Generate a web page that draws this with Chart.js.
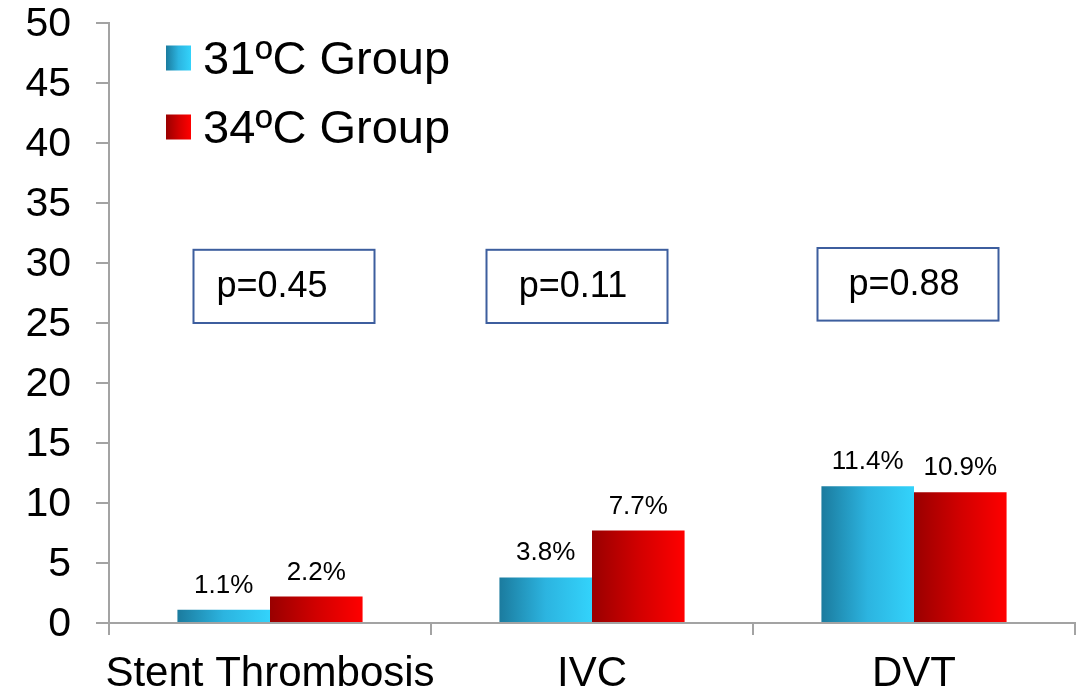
<!DOCTYPE html>
<html>
<head>
<meta charset="utf-8">
<script src="https://cdn.jsdelivr.net/npm/chart.js@4/dist/chart.umd.min.js"></script>
<style>
  html, body { margin: 0; padding: 0; background: #ffffff; }
  #wrap { width: 1076px; height: 694px; }
</style>
</head>
<body>
<div id="wrap"><canvas id="chart" width="1076" height="694"></canvas></div>
<script>
// Complication rates (%) by cooling group
const categories = ['Stent Thrombosis', 'IVC', 'DVT'];
const group31 = [1.1, 3.8, 11.4];
const group34 = [2.2, 7.7, 10.9];
const seriesNames = ['31ºC Group', '34ºC Group'];
const pValues = ['p=0.45', 'p=0.11', 'p=0.88'];
const yMin = 0, yMax = 50, yStep = 5;

const FONT = '"Liberation Sans", Arial, Helvetica, sans-serif';
const AXIS_GREY = '#a3a3a3';

// Horizontal gradient stops for each series (dark left edge -> bright right edge)
const gradientStops = [
  ['#1b7b9e', '#2cb4e0', '#33d3fb'],
  ['#990000', '#d10000', '#ff0000']
];

function makeGradient(ctx, x0, x1, stops) {
  const g = ctx.createLinearGradient(x0, 0, x1, 0);
  g.addColorStop(0, stops[0]);
  g.addColorStop(0.5, stops[1]);
  g.addColorStop(1, stops[2]);
  return g;
}

// Paints every bar with its own left-to-right gradient
const barGradient = {
  id: 'barGradient',
  beforeDatasetDraw(chart, args) {
    const ctx = chart.ctx;
    const stops = gradientStops[args.index];
    args.meta.data.forEach(el => {
      const half = el.width / 2;
      const fill = makeGradient(ctx, el.x - half, el.x + half, stops);
      el.options = Object.assign({}, el.options, { backgroundColor: fill });
    });
  }
};

// Percent labels above the bars, p-value boxes and the legend
const overlays = {
  id: 'overlays',
  afterDatasetsDraw(chart, args, opts) {
    const ctx = chart.ctx;
    const x = chart.scales.x, y = chart.scales.y;
    ctx.save();

    // value labels
    ctx.fillStyle = '#000000';
    ctx.font = '26px ' + FONT;
    ctx.textAlign = 'center';
    ctx.textBaseline = 'alphabetic';
    chart.data.datasets.forEach((ds, di) => {
      chart.getDatasetMeta(di).data.forEach((el, i) => {
        ctx.fillText(ds.data[i].toFixed(1) + '%', el.x, el.y - 17);
      });
    });

    // p-value boxes
    ctx.lineWidth = 2;
    ctx.strokeStyle = '#3d5e9e';
    ctx.font = '36px ' + FONT;
    ctx.textBaseline = 'middle';
    pValues.forEach((txt, i) => {
      const cx = x.getPixelForValue(i) + opts.boxShift[i];
      const top = y.getPixelForValue(opts.boxTop[i]);
      const bottom = y.getPixelForValue(opts.boxBottom[i]);
      const w = opts.boxWidth;
      ctx.strokeRect(cx - w / 2, top, w, bottom - top);
      ctx.fillText(txt, cx + opts.textShift[i], (top + bottom) / 2 + 1);
    });

    // legend inside the plot area
    ctx.textAlign = 'left';
    ctx.font = '47px ' + FONT;
    chart.data.datasets.forEach((ds, di) => {
      const cy = opts.legendY[di];
      const s = opts.legendBox;
      const lx = opts.legendX;
      ctx.fillStyle = makeGradient(ctx, lx, lx + s, gradientStops[di]);
      ctx.fillRect(lx, cy - s / 2, s, s);
      ctx.fillStyle = '#000000';
      ctx.fillText(ds.label, lx + s + 12, cy + 3);
    });

    ctx.restore();
  }
};

new Chart(document.getElementById('chart'), {
  type: 'bar',
  data: {
    labels: categories,
    datasets: [
      { label: seriesNames[0], data: group31, backgroundColor: gradientStops[0][2] },
      { label: seriesNames[1], data: group34, backgroundColor: gradientStops[1][2] }
    ]
  },
  options: {
    responsive: false,
    animation: false,
    devicePixelRatio: 1,
    categoryPercentage: 0.575,
    barPercentage: 1.0,
    layout: { padding: { top: 23, right: 1, bottom: 0, left: 0 } },
    plugins: {
      legend: { display: false },
      tooltip: { enabled: false },
      overlays: {
        boxWidth: 181,
        boxShift: [14, -15, -6],
        textShift: [-12, -4, -4],
        boxTop: [31.1, 31.1, 31.25],
        boxBottom: [25.0, 25.0, 25.2],
        legendX: 166,
        legendBox: 25,
        legendY: [58, 127]
      }
    },
    scales: {
      x: {
        grid: {
          offset: true,
          drawOnChartArea: false,
          drawTicks: true,
          tickLength: 12,
          tickWidth: 2,
          color: AXIS_GREY,
          lineWidth: 2
        },
        border: { display: true, color: AXIS_GREY, width: 2 },
        ticks: {
          color: '#000000',
          font: { family: FONT, size: 42, lineHeight: 1 },
          padding: 18,
          maxRotation: 0,
          autoSkip: false
        },
        afterFit(scale) {
          scale.height = 71;
          scale.paddingLeft = 0;
          scale.paddingRight = 0;
        }
      },
      y: {
        min: yMin,
        max: yMax,
        grid: {
          drawOnChartArea: false,
          drawTicks: true,
          tickLength: 13,
          tickWidth: 2,
          color: AXIS_GREY,
          lineWidth: 2
        },
        border: { display: true, color: AXIS_GREY, width: 2 },
        ticks: {
          stepSize: yStep,
          color: '#000000',
          font: { family: FONT, size: 41, lineHeight: 1 },
          padding: 25,
          labelOffset: 2
        },
        afterFit(scale) {
          scale.width = 109;
          scale.paddingTop = 0;
          scale.paddingBottom = 0;
        }
      }
    }
  },
  plugins: [barGradient, overlays]
});
</script>
</body>
</html>
